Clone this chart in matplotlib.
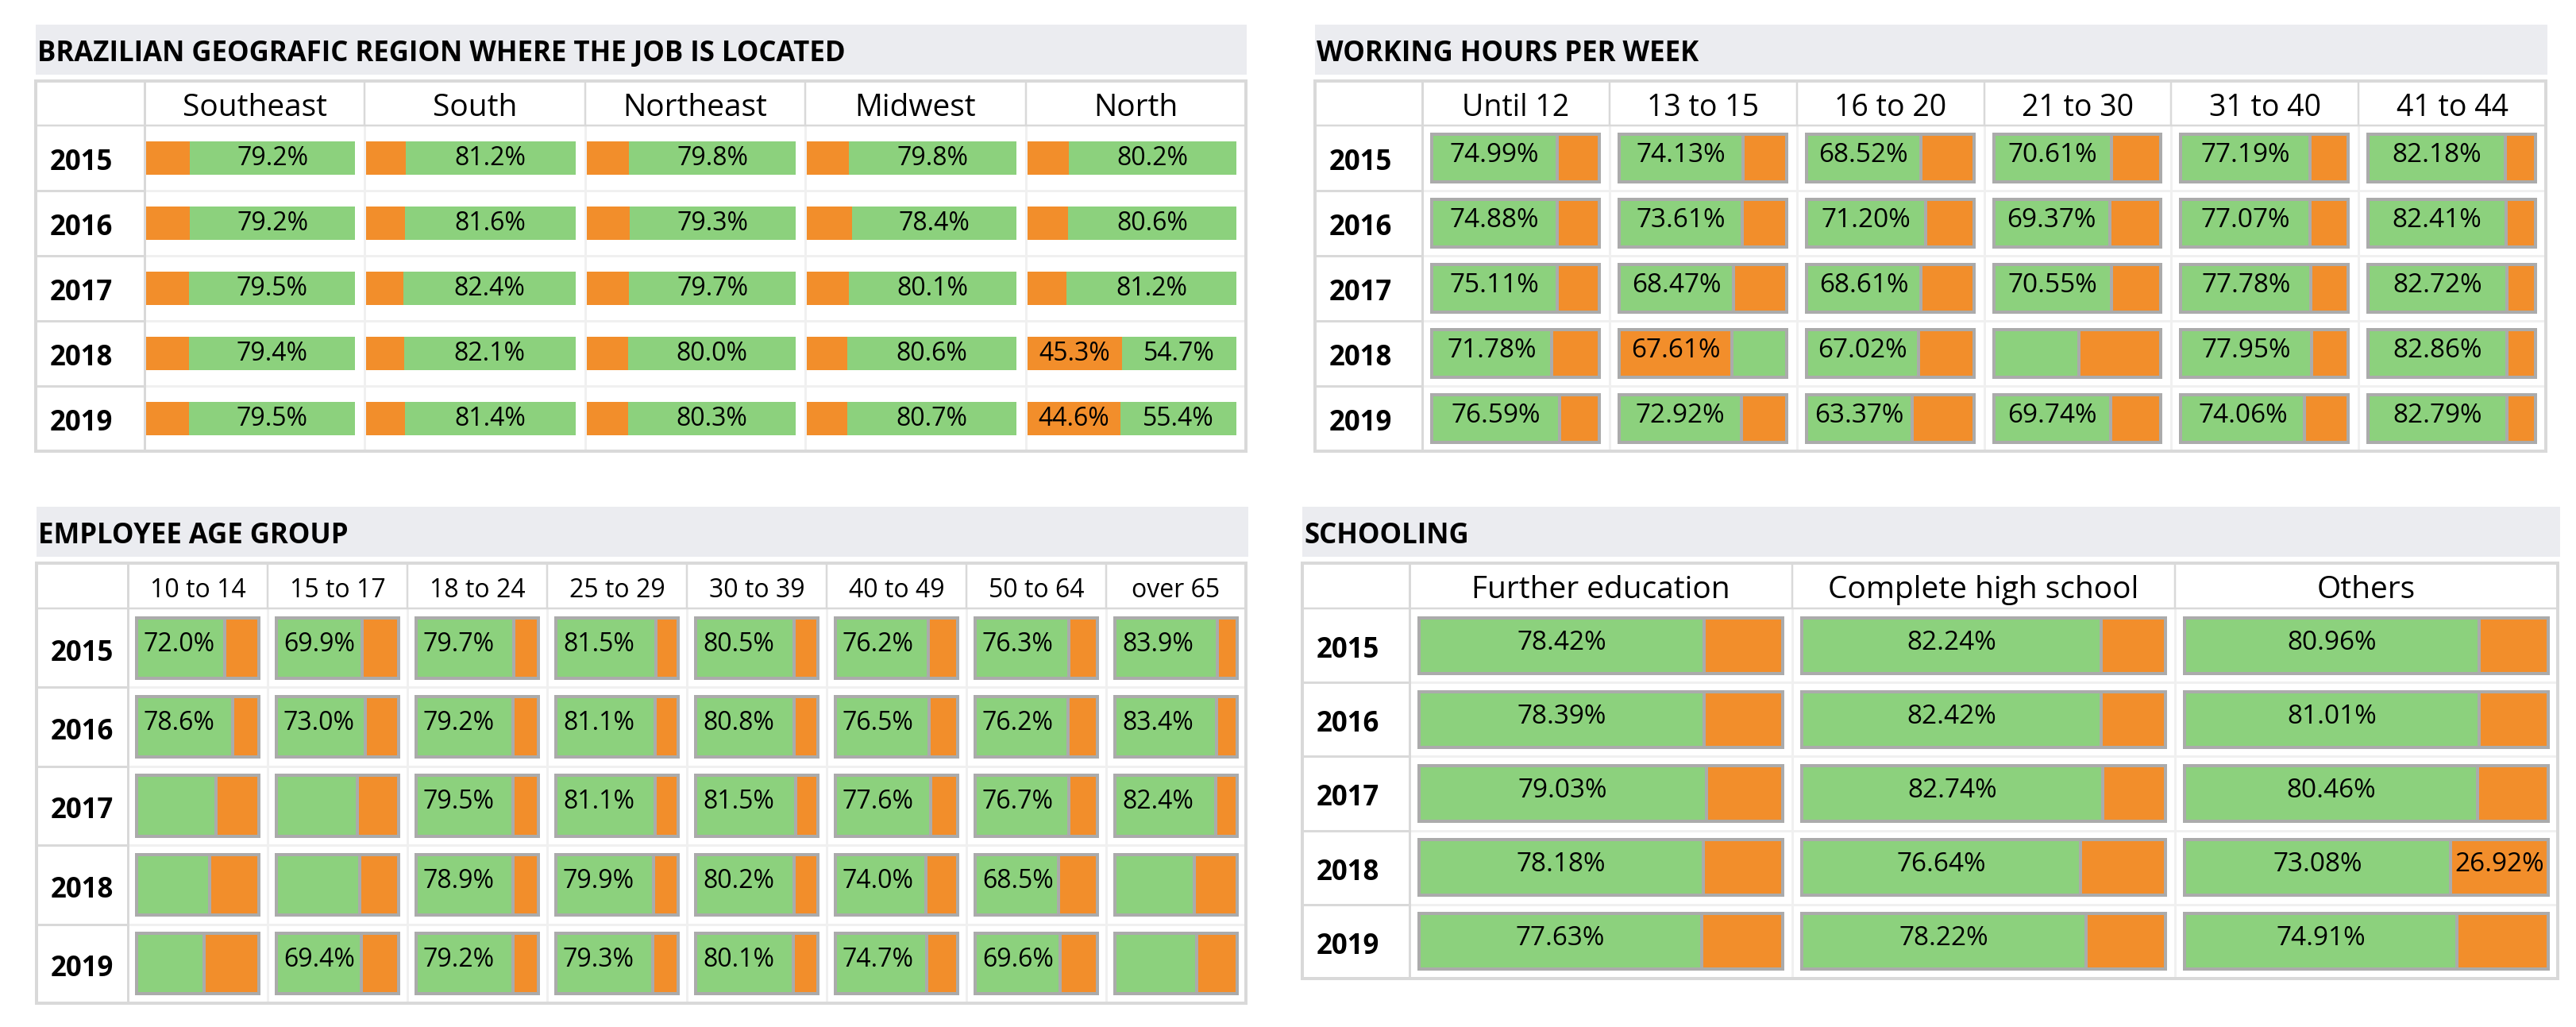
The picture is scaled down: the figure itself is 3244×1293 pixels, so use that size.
import matplotlib
matplotlib.use("Agg")
import matplotlib.pyplot as plt

W, H = 3244, 1293
DPI = 100
PT = 72 / DPI  # points per pixel

plt.rcParams['font.family'] = ['Open Sans', 'DejaVu Sans']

GREEN = "#8CD17D"
ORANGE = "#F28E2B"
BAR_EDGE = "#ABABAB"
GRID_DARK = "#D9D9D9"
GRID_LIGHT = "#F0F0F0"
BAND = "#EBECF0"

YEARS = ["2015", "2016", "2017", "2018", "2019"]

# ---------------- data ----------------
REGION_TITLE = "BRAZILIAN GEOGRAFIC REGION WHERE THE JOB IS LOCATED"
REGION_COLS = ["Southeast", "South", "Northeast", "Midwest", "North"]
REGION_GREEN = [
    [79.2, 81.2, 79.8, 79.8, 80.2],
    [79.2, 81.6, 79.3, 78.4, 80.6],
    [79.5, 82.4, 79.7, 80.1, 81.2],
    [79.4, 82.1, 80.0, 80.6, 54.7],
    [79.5, 81.4, 80.3, 80.7, 55.4],
]
REGION_GREEN_LABEL = [[1] * 5 for _ in range(5)]
REGION_ORANGE_LABEL = [
    [0, 0, 0, 0, 0],
    [0, 0, 0, 0, 0],
    [0, 0, 0, 0, 0],
    [0, 0, 0, 0, 1],
    [0, 0, 0, 0, 1],
]
REGION_ORANGE_FIRST = [[1] * 5 for _ in range(5)]

HOURS_TITLE = "WORKING HOURS PER WEEK"
HOURS_COLS = ["Until 12", "13 to 15", "16 to 20", "21 to 30", "31 to 40", "41 to 44"]
HOURS_GREEN = [
    [74.99, 74.13, 68.52, 70.61, 77.19, 82.18],
    [74.88, 73.61, 71.20, 69.37, 77.07, 82.41],
    [75.11, 68.47, 68.61, 70.55, 77.78, 82.72],
    [71.78, 32.39, 67.02, 51.0, 77.95, 82.86],
    [76.59, 72.92, 63.37, 69.74, 74.06, 82.79],
]
HOURS_GREEN_LABEL = [
    [1, 1, 1, 1, 1, 1],
    [1, 1, 1, 1, 1, 1],
    [1, 1, 1, 1, 1, 1],
    [1, 0, 1, 0, 1, 1],
    [1, 1, 1, 1, 1, 1],
]
HOURS_ORANGE_LABEL = [
    [0, 0, 0, 0, 0, 0],
    [0, 0, 0, 0, 0, 0],
    [0, 0, 0, 0, 0, 0],
    [0, 1, 0, 0, 0, 0],
    [0, 0, 0, 0, 0, 0],
]
HOURS_ORANGE_FIRST = [
    [0, 0, 0, 0, 0, 0],
    [0, 0, 0, 0, 0, 0],
    [0, 0, 0, 0, 0, 0],
    [0, 1, 0, 0, 0, 0],
    [0, 0, 0, 0, 0, 0],
]

AGE_TITLE = "EMPLOYEE AGE GROUP"
AGE_COLS = ["10 to 14", "15 to 17", "18 to 24", "25 to 29", "30 to 39", "40 to 49", "50 to 64", "over 65"]
AGE_GREEN = [
    [72.0, 69.9, 79.7, 81.5, 80.5, 76.2, 76.3, 83.9],
    [78.6, 73.0, 79.2, 81.1, 80.8, 76.5, 76.2, 83.4],
    [65.0, 66.5, 79.5, 81.1, 81.5, 77.6, 76.7, 82.4],
    [60.0, 68.0, 78.9, 79.9, 80.2, 74.0, 68.5, 65.0],
    [55.0, 69.4, 79.2, 79.3, 80.1, 74.7, 69.6, 67.0],
]
AGE_GREEN_LABEL = [
    [1, 1, 1, 1, 1, 1, 1, 1],
    [1, 1, 1, 1, 1, 1, 1, 1],
    [0, 0, 1, 1, 1, 1, 1, 1],
    [0, 0, 1, 1, 1, 1, 1, 0],
    [0, 1, 1, 1, 1, 1, 1, 0],
]
AGE_ORANGE_LABEL = [[0] * 8 for _ in range(5)]
AGE_ORANGE_FIRST = [[0] * 8 for _ in range(5)]

SCHOOL_TITLE = "SCHOOLING"
SCHOOL_COLS = ["Further education", "Complete high school", "Others"]
SCHOOL_GREEN = [
    [78.42, 82.24, 80.96],
    [78.39, 82.42, 81.01],
    [79.03, 82.74, 80.46],
    [78.18, 76.64, 73.08],
    [77.63, 78.22, 74.91],
]
SCHOOL_GREEN_LABEL = [[1] * 3 for _ in range(5)]
SCHOOL_ORANGE_LABEL = [
    [0, 0, 0],
    [0, 0, 0],
    [0, 0, 0],
    [0, 0, 1],
    [0, 0, 0],
]
SCHOOL_ORANGE_FIRST = [[0] * 3 for _ in range(5)]

# ---------------- figure ----------------
fig = plt.figure(figsize=(W / DPI, H / DPI), dpi=DPI)
fig.patch.set_facecolor("white")
bg = fig.add_axes([0, 0, 1, 1])
bg.set_xlim(0, W)
bg.set_ylim(H, 0)
bg.axis("off")


def draw_panel(title, cols, green, glab, olab, ofirst, geo, st):
    L, R = geo["left"], geo["right"]
    bt, bb = geo["band"]
    top, hb, bot = geo["top"], geo["hb"], geo["bottom"]
    rh = geo["rowhead"]
    ncol, nrow = len(cols), len(YEARS)
    cw = (R - rh) / ncol
    rowh = (bot - hb) / nrow

    # title band + title
    bg.add_patch(plt.Rectangle((L, bt), geo["band_right"] - L, bb - bt,
                               facecolor=BAND, edgecolor="none"))
    bg.text(L + 2, geo["title_base"], title, fontsize=st["title_fs"],
            fontweight="bold", va="baseline", ha="left", color="black")

    # grid lines: light ones inside data area
    for i in range(1, nrow):
        y = hb + i * rowh
        bg.hlines(y, rh, R, color=GRID_LIGHT, lw=3 * PT, zorder=1)
        bg.hlines(y, L, rh, color=GRID_DARK, lw=3 * PT, zorder=2)
    for j in range(1, ncol):
        x = rh + j * cw
        bg.vlines(x, hb, bot, color=GRID_LIGHT, lw=3 * PT, zorder=1)
        bg.vlines(x, top, hb, color=GRID_DARK, lw=2.5 * PT, zorder=2)
    bg.hlines(hb, L, R, color=GRID_DARK, lw=2.5 * PT, zorder=2)
    bg.vlines(rh, top, bot, color=GRID_DARK, lw=3 * PT, zorder=2)
    bg.add_patch(plt.Rectangle((L, top), R - L, bot - top, facecolor="none",
                               edgecolor=GRID_DARK, lw=4 * PT, zorder=3))

    # header labels
    for j, c in enumerate(cols):
        xc = rh + (j + 0.5) * cw
        bg.text(xc, (top + hb) / 2 + st["head_off"], c, fontsize=st["head_fs"],
                ha="center", va="baseline", color="black")
    # year labels
    for i, yv in enumerate(YEARS):
        yc = hb + (i + 0.5) * rowh
        bg.text(L + 18, yc + st["year_off"], yv, fontsize=st["year_fs"],
                fontweight="bold", ha="left", va="baseline", color="black")

    # bars, one axes per column
    ml, mr = st["ml"], st["mr"]
    for j in range(ncol):
        x0 = rh + j * cw
        ax = fig.add_axes([x0 / W, 1 - bot / H, cw / W, (bot - hb) / H])
        bw = cw - ml - mr
        ax.set_xlim(-ml / bw * 100, 100 + mr / bw * 100)
        ax.set_ylim(nrow - 0.5, -0.5)
        ax.axis("off")
        ax.patch.set_alpha(0)
        for i in range(nrow):
            g = green[i][j]
            o = 100 - g
            if ofirst[i][j]:
                segs = [(o, ORANGE, olab[i][j]), (g, GREEN, glab[i][j])]
            else:
                segs = [(g, GREEN, glab[i][j]), (o, ORANGE, olab[i][j])]
            left = 0.0
            for v, colr, lab in segs:
                ax.barh(i, v, left=left, height=st["bar_h"], color=colr,
                        edgecolor=st["edge"], linewidth=st["edge_lw"] * PT)
                if lab:
                    if st["align"] == "center":
                        xy, dx, ha = (left + v / 2, i), 0, "center"
                    else:
                        xy, dx, ha = (left, i), st["pad"] * PT, "left"
                    ax.annotate(st["fmt"].format(v), xy=xy,
                                xytext=(dx, -st["val_off"] * PT),
                                textcoords="offset points", ha=ha,
                                va="baseline", fontsize=st["val_fs"],
                                color="black")
                left += v


draw_panel(REGION_TITLE, REGION_COLS, REGION_GREEN, REGION_GREEN_LABEL,
           REGION_ORANGE_LABEL, REGION_ORANGE_FIRST,
           dict(left=45, right=1569, band=(31, 94), band_right=1570, title_base=77,
                top=102, hb=158, bottom=568, rowhead=182),
           dict(title_fs=25, head_fs=28, head_off=16, year_fs=25, year_off=15.5,
                val_fs=23, val_off=9.5, ml=2, mr=12, bar_h=0.52, edge="none",
                edge_lw=0, align="center", pad=0, fmt="{:.1f}%"))

draw_panel(HOURS_TITLE, HOURS_COLS, HOURS_GREEN, HOURS_GREEN_LABEL,
           HOURS_ORANGE_LABEL, HOURS_ORANGE_FIRST,
           dict(left=1656, right=3206, band=(31, 94), band_right=3208, title_base=77,
                top=102, hb=158, bottom=568, rowhead=1791),
           dict(title_fs=25, head_fs=27, head_off=16, year_fs=25, year_off=15.5,
                val_fs=24, val_off=5.5, ml=12, mr=13, bar_h=0.72, edge=BAR_EDGE,
                edge_lw=4, align="center", pad=0, fmt="{:.2f}%"))

draw_panel(AGE_TITLE, AGE_COLS, AGE_GREEN, AGE_GREEN_LABEL,
           AGE_ORANGE_LABEL, AGE_ORANGE_FIRST,
           dict(left=46, right=1569, band=(638, 701), band_right=1572, title_base=684,
                top=709, hb=766, bottom=1263, rowhead=161),
           dict(title_fs=25, head_fs=23, head_off=14.5, year_fs=25, year_off=16,
                val_fs=23, val_off=4, ml=11, mr=11, bar_h=0.765, edge=BAR_EDGE,
                edge_lw=4, align="left", pad=9, fmt="{:.1f}%"))

draw_panel(SCHOOL_TITLE, SCHOOL_COLS, SCHOOL_GREEN, SCHOOL_GREEN_LABEL,
           SCHOOL_ORANGE_LABEL, SCHOOL_ORANGE_FIRST,
           dict(left=1640, right=3221, band=(638, 701), band_right=3224, title_base=684,
                top=709, hb=766, bottom=1232, rowhead=1775),
           dict(title_fs=25, head_fs=28, head_off=15.5, year_fs=25, year_off=15.5,
                val_fs=24, val_off=5, ml=12, mr=12, bar_h=0.75, edge=BAR_EDGE,
                edge_lw=4, align="center", pad=0, fmt="{:.2f}%"))

fig.savefig("out.png", dpi=DPI, facecolor="white")
